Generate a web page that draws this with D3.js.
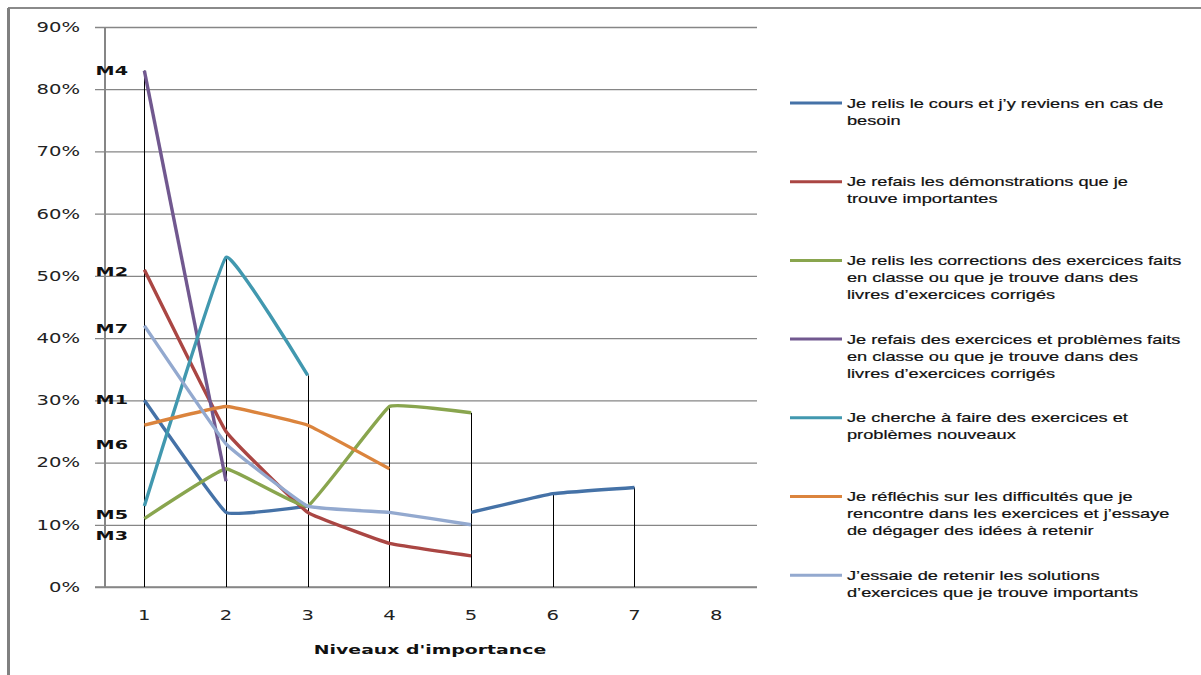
<!DOCTYPE html>
<html><head><meta charset="utf-8">
<script src="https://cdn.jsdelivr.net/npm/d3@7"></script>
<style>body{margin:0;background:#fff} svg{display:block}</style>
</head><body><svg id="c" width="1201" height="675"></svg>
<script>
// ---------- data ----------
const levels = [1, 2, 3, 4, 5, 6, 7, 8];
const yTicks = [0, 0.1, 0.2, 0.3, 0.4, 0.5, 0.6, 0.7, 0.8, 0.9];
const xTitle = "Niveaux d'importance";
const seriesCodes = ["M1", "M2", "M3", "M4", "M5", "M6", "M7"];
const seriesNames = [
  "Je relis le cours et j’y reviens en cas de\nbesoin",
  "Je refais  les démonstrations que je\ntrouve importantes",
  "Je relis les corrections des exercices faits\nen classe ou que je trouve dans des\nlivres d’exercices corrigés",
  "Je refais  des exercices  et problèmes faits\nen classe ou que je trouve dans des\nlivres d’exercices corrigés",
  "Je cherche à faire des exercices et\nproblèmes nouveaux",
  "Je réfléchis  sur les difficultés que je\nrencontre dans les exercices et j’essaye\nde dégager des idées à retenir",
  "J’essaie de retenir les solutions\nd’exercices que je trouve importants"
];
const m1 = [0.30, 0.12, 0.13, null, 0.12, 0.15, 0.16, null];
const m2 = [0.51, 0.25, 0.12, 0.07, 0.05, null, null, null];
const m3 = [0.11, 0.19, 0.13, 0.29, 0.28, null, null, null];
const m4 = [0.83, 0.17, null, null, null, null, null, null];
const m5 = [0.13, 0.53, 0.34, null, null, null, null, null];
const m6 = [0.26, 0.29, 0.26, 0.19, null, null, null, null];
const m7 = [0.42, 0.23, 0.13, 0.12, 0.10, null, null, null];
const seriesValues = [m1, m2, m3, m4, m5, m6, m7];

// ---------- style / layout ----------
const colors = ["#4572A7", "#AA4643", "#89A54E", "#71588F", "#4198AF", "#DB843D", "#93A9CF"];
const labelNudge = [-1, 2, 17, 0, 9, 19, 3]; // px offsets of the M labels to avoid overlaps
const svg = d3.select("#c");
const W = 1201, H = 675;
const plot = {left: 103.5, right: 757, top: 27, bottom: 587};

const x = d3.scaleBand().domain(levels).range([plot.left, plot.right]).padding(0);
const cx = d => x(d) + x.bandwidth() / 2;
const y = d3.scaleLinear().domain([0, 0.9]).range([plot.bottom, plot.top]);

function sText(g, tx, ty, sx, str) {
  return g.append("text").attr("transform", `translate(${tx},${ty}) scale(${sx},1)`).text(str);
}

// border
svg.append("line").attr("x1", 8).attr("x2", W).attr("y1", 8).attr("y2", 8)
  .attr("stroke", "#8a8a8a").attr("stroke-width", 2);
svg.append("line").attr("x1", 8.5).attr("x2", 8.5).attr("y1", 8).attr("y2", H)
  .attr("stroke", "#808080").attr("stroke-width", 3);

// gridlines via axis (ticks extend left from the right edge to the outer tick end)
const yAxis = d3.axisLeft(y).tickValues(yTicks).tickSize(plot.right - 95).tickFormat("");
const gy = svg.append("g").attr("transform", `translate(${plot.right},0)`).call(yAxis);
gy.select(".domain").remove();
gy.selectAll(".tick line").attr("stroke", "#868686").attr("stroke-width", 1.3);

// y tick labels
const gyl = svg.append("g").attr("font-family", "DejaVu Sans").attr("font-size", 13.5)
  .attr("fill", "#222").attr("text-anchor", "end");
yTicks.forEach(t => {
  sText(gyl, 80, y(t), 1.45, d3.format(".0%")(t)).attr("dy", "0.36em");
});

// y axis line
svg.append("line").attr("x1", 105).attr("x2", 105).attr("y1", plot.top).attr("y2", plot.bottom)
  .attr("stroke", "#868686").attr("stroke-width", 2);
// x axis line
svg.append("line").attr("x1", 95).attr("x2", plot.right).attr("y1", plot.bottom).attr("y2", plot.bottom)
  .attr("stroke", "#868686").attr("stroke-width", 1.5);

// x tick labels
const gxl = svg.append("g").attr("font-family", "DejaVu Sans").attr("font-size", 13.5)
  .attr("fill", "#222").attr("text-anchor", "middle");
levels.forEach(l => sText(gxl, cx(l), 615, 1.45, String(l)).attr("dy", "0.36em"));

// x title
sText(svg.append("g").attr("font-family", "DejaVu Sans").attr("font-weight", "bold")
  .attr("font-size", 13).attr("fill", "#111").attr("text-anchor", "middle"),
  430, 649, 1.45, xTitle).attr("dy", "0.36em");

// drop lines
const gDrop = svg.append("g").attr("stroke", "#000").attr("stroke-width", 1);
seriesValues.forEach(vals => {
  vals.forEach((v, i) => {
    if (v == null) return;
    const px = Math.round(cx(levels[i])) + 0.5;
    gDrop.append("line").attr("x1", px).attr("x2", px)
      .attr("y1", y(v)).attr("y2", y(0));
  });
});

// series lines
const line = d3.line()
  .defined(d => d.v != null)
  .x(d => cx(d.l)).y(d => y(d.v))
  .curve(d3.curveCardinal.tension(0.75));
seriesValues.forEach((vals, s) => {
  const pts = vals.map((v, i) => ({l: levels[i], v}));
  svg.append("path").attr("d", line(pts)).attr("fill", "none")
    .attr("stroke", colors[s]).attr("stroke-width", 3.4).attr("stroke-linejoin", "round");
});

// M labels
const gm = svg.append("g").attr("font-family", "DejaVu Sans").attr("font-weight", "bold")
  .attr("font-size", 12).attr("fill", "#111").attr("text-anchor", "end");
seriesCodes.forEach((c, s) => {
  sText(gm, 128, y(seriesValues[s][0]) + labelNudge[s], 1.6, c).attr("dy", "0.36em");
});

// legend
const gl = svg.append("g");
seriesNames.forEach((name, s) => {
  const y0 = 103 + s * 78.7;
  gl.append("line").attr("x1", 790).attr("x2", 842).attr("y1", y0).attr("y2", y0)
    .attr("stroke", colors[s]).attr("stroke-width", 3);
  const g = gl.append("g").attr("font-family", "Liberation Sans").attr("font-size", 13)
    .attr("fill", "#111").attr("stroke", "#111").attr("stroke-width", 0.2);
  name.split("\n").forEach((ln, k) => {
    sText(g, 847, y0 + k * 17, 1.4, ln).attr("dy", "0.36em");
  });
});
</script></body></html>
